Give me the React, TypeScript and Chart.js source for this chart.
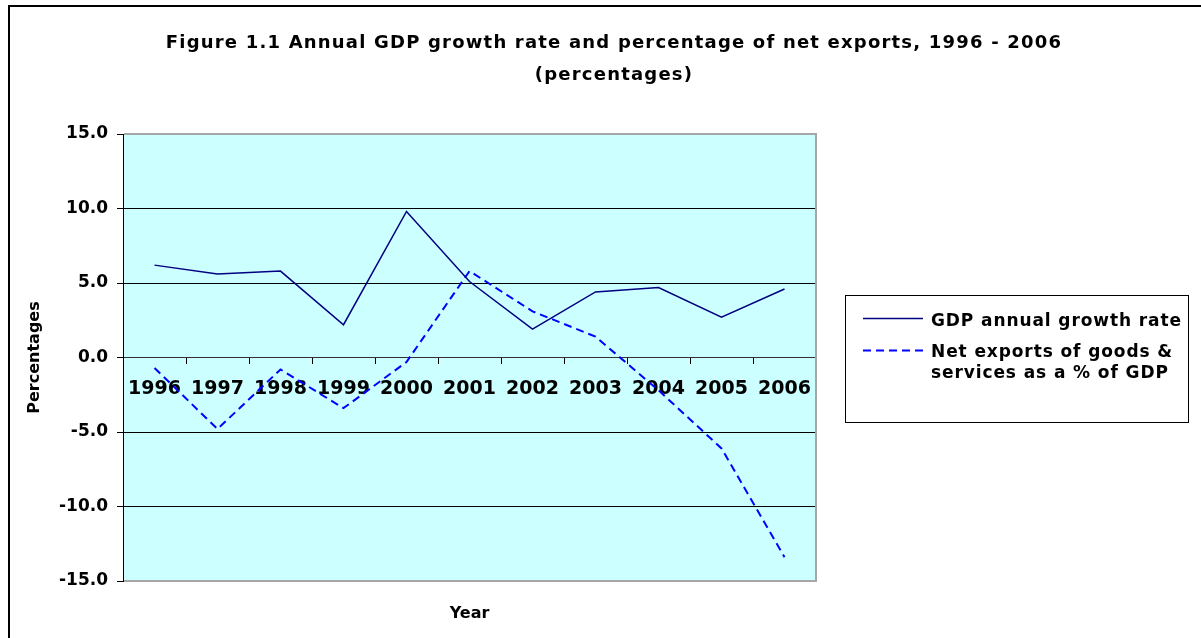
import React, { useEffect, useRef } from "react";
import { Chart, registerables } from "chart.js";

Chart.register(...registerables);

// ---- data ----
const years = ["1996", "1997", "1998", "1999", "2000", "2001", "2002", "2003", "2004", "2005", "2006"];
const gdpGrowth = [6.2, 5.6, 5.8, 2.2, 9.8, 5.1, 1.9, 4.4, 4.7, 2.7, 4.6];
const netExports = [-0.7, -4.8, -0.8, -3.4, -0.3, 5.8, 3.1, 1.4, -2.2, -6.1, -13.4];
const yMin = -15;
const yMax = 15;
const yStep = 5;
const seriesNames = ["GDP annual growth rate", "Net exports of goods & services as a % of GDP"];
const legendLines = [["GDP annual growth rate"], ["Net exports of goods &", "services as a % of GDP"]];
const titleLines = [
  "Figure 1.1 Annual GDP growth rate and percentage of net exports, 1996 - 2006",
  "(percentages)",
];
const xTitle = "Year";
const yTitle = "Percentages";

const FONT = "DejaVu Sans";

const framePlugin = {
  id: "excelFrame",
  beforeDraw(chart: any) {
    const { ctx, chartArea: a, width, height } = chart;
    ctx.save();
    ctx.fillStyle = "#ffffff";
    ctx.fillRect(0, 0, width, height);
    ctx.fillStyle = "#ccffff";
    ctx.fillRect(a.left, a.top, a.right - a.left, a.bottom - a.top);
    ctx.fillStyle = "#000000";
    ctx.fillRect(8, 5, width - 8, 2);
    ctx.fillRect(8, 5, 2, height - 5);
    ctx.restore();
  },
  beforeDatasetsDraw(chart: any) {
    const { ctx, chartArea: a } = chart;
    ctx.save();
    ctx.strokeStyle = "#a6a6a6";
    ctx.lineWidth = 2;
    ctx.beginPath();
    ctx.moveTo(a.left + 1, a.top);
    ctx.lineTo(a.right, a.top);
    ctx.lineTo(a.right, a.bottom);
    ctx.lineTo(a.left + 1, a.bottom);
    ctx.stroke();
    ctx.restore();
  },
  afterDraw(chart: any) {
    const { ctx, chartArea: a, width } = chart;
    ctx.save();
    // title
    ctx.fillStyle = "#000";
    ctx.font = `bold 18px "${FONT}"`;
    (ctx as any).letterSpacing = "1.2px";
    ctx.textAlign = "center";
    ctx.textBaseline = "alphabetic";
    const cx = (27 + width) / 2;
    ctx.fillText(titleLines[0], cx, 48);
    ctx.fillText(titleLines[1], cx, 80);

    // legend
    const bx = a.right + 29;
    const by = Math.round((a.top + a.bottom) / 2 - 63);
    const bw = width - 13 - bx;
    const bh = 127;
    ctx.strokeStyle = "#000";
    ctx.lineWidth = 1;
    (ctx as any).letterSpacing = "0px";
    ctx.strokeRect(bx + 0.5, by + 0.5, bw, bh);

    const lineY = [by + 23, by + 55];
    const textY = [[by + 31], [by + 62, by + 83]];
    chart.data.datasets.forEach((ds: any, i: number) => {
      ctx.save();
      ctx.strokeStyle = ds.borderColor;
      ctx.lineWidth = ds.borderWidth;
      ctx.setLineDash(ds.borderDash || []);
      ctx.beginPath();
      ctx.moveTo(bx + 18, lineY[i] + 0.5);
      ctx.lineTo(bx + 78, lineY[i] + 0.5);
      ctx.stroke();
      ctx.restore();
      ctx.fillStyle = "#000";
      ctx.font = `bold 17px "${FONT}"`;
      (ctx as any).letterSpacing = "0.9px";
      ctx.textAlign = "left";
      ctx.textBaseline = "alphabetic";
      legendLines[i].forEach((t, j) => ctx.fillText(t, bx + 86, textY[i][j]));
      (ctx as any).letterSpacing = "0px";
    });
    ctx.restore();
  },
};

export default function App() {
  const ref = useRef<HTMLCanvasElement>(null);
  useEffect(() => {
    const chart = new Chart(ref.current as HTMLCanvasElement, {
      type: "line",
      data: {
        labels: years,
        datasets: [
          {
            label: seriesNames[0],
            data: gdpGrowth,
            borderColor: "#000080",
            borderWidth: 1.5,
            pointRadius: 0,
            fill: false,
            tension: 0,
          },
          {
            label: seriesNames[1],
            data: netExports,
            borderColor: "#0000ff",
            borderWidth: 2,
            borderDash: [8, 5],
            pointRadius: 0,
            fill: false,
            tension: 0,
          },
        ],
      },
      options: {
        responsive: false,
        animation: false,
        devicePixelRatio: 1,
        layout: { padding: { top: 134, left: 27, right: 0, bottom: 0 } },
        plugins: {
          legend: { display: false },
          title: { display: false },
          tooltip: { enabled: false },
        },
        scales: {
          x: {
            type: "category",
            position: { y: 0 } as any,
            offset: true,
            grid: {
              offset: true,
              drawOnChartArea: false,
              drawTicks: true,
              tickLength: 6,
              color: "#000",
              lineWidth: 1,
            },
            border: { display: true, color: "#333", width: 1 },
            ticks: {
              font: { family: FONT, size: 19, weight: "bold" },
              color: "#000",
              padding: 14,
              maxRotation: 0,
              autoSkip: false,
            },
          },
          x2: {
            type: "category",
            position: "bottom",
            grid: { display: false },
            border: { display: false },
            ticks: { display: false },
            title: {
              display: true,
              text: xTitle,
              color: "#000",
              font: { family: FONT, size: 16, weight: "bold", lineHeight: 1 },
              padding: { top: 0, bottom: 16 },
            },
            afterFit(s: any) {
              s.height = 57;
            },
          },
          y: {
            type: "linear",
            position: "left",
            min: yMin,
            max: yMax,
            ticks: {
              stepSize: yStep,
              callback: (v: any) => Number(v).toFixed(1),
              font: { family: FONT, size: 17, weight: "bold" },
              color: "#000",
              padding: 9,
            },
            grid: { color: "#000", tickColor: "#000", tickLength: 6, drawTicks: true, lineWidth: 1 },
            border: { display: true, color: "#000", width: 1 },
            title: {
              display: true,
              text: yTitle,
              color: "#000",
              font: { family: FONT, size: 16, weight: "bold", lineHeight: 1 },
              padding: 0,
            },
            afterFit(s: any) {
              s.width = 96;
            },
          },
          y2: {
            type: "linear",
            position: "right",
            grid: { display: false },
            border: { display: false },
            ticks: { display: false },
            afterFit(s: any) {
              s.width = 385;
            },
          },
        },
      } as any,
      plugins: [framePlugin],
    });
    return () => chart.destroy();
  }, []);
  return (
    <div style={{ position: "fixed", left: 0, top: 0, width: 1201, height: 638, background: "#fff" }}>
      <canvas ref={ref} width={1201} height={638} style={{ display: "block", width: 1201, height: 638 }} />
    </div>
  );
}
